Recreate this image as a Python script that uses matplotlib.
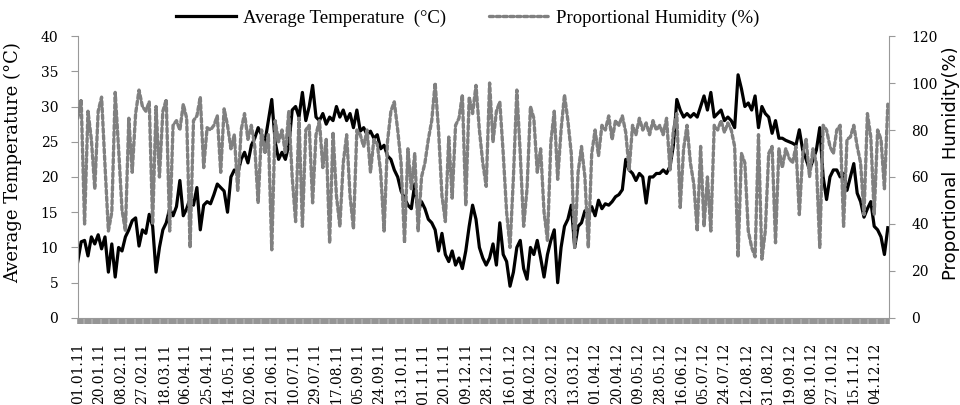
import numpy as np
import matplotlib.pyplot as plt
from datetime import date, timedelta

plt.rcParams['font.family'] = ['DejaVu Serif']

# Series, one value every 3 days starting 01.01.2011
start = date(2011, 1, 1)
n_days = 716
day_step = 3

temp_c = [
    8.0, 10.8, 11.0, 8.8, 11.5, 10.5, 11.8, 9.8, 11.5, 6.5,
    10.5, 5.8, 10.0, 9.5, 11.5, 12.5, 13.8, 14.2, 10.2, 12.5,
    12.0, 14.7, 13.0, 6.5, 10.0, 12.5, 13.5, 15.5, 14.5, 15.8,
    19.5, 14.5, 15.5, 17.0, 16.0, 18.5, 12.5, 16.0, 16.5, 16.2,
    17.5, 19.0, 18.5, 18.0, 15.0, 20.0, 21.0, 20.5, 22.5, 23.5,
    22.0, 24.5, 25.5, 27.0, 26.0, 25.0, 28.0, 31.0, 25.0, 22.5,
    23.5, 22.5, 24.5, 29.5, 30.0, 28.5, 32.0, 28.0, 30.0, 33.0,
    28.5, 28.0, 29.0, 27.5, 28.5, 28.0, 30.0, 28.5, 29.5, 28.0,
    29.0, 27.0, 29.5, 26.5, 27.0, 26.0, 26.5, 25.5, 26.0, 24.0,
    24.5, 23.0, 22.5, 21.0, 20.0, 18.0, 17.0, 16.0, 15.5, 19.0,
    15.0, 16.5, 15.5, 14.0, 13.5, 12.5, 9.5, 12.0, 9.0, 8.0,
    9.5, 7.5, 8.5, 7.0, 9.5, 13.0, 16.0, 14.0, 10.0, 8.5,
    7.5, 8.5, 10.5, 7.5, 13.5, 9.0, 8.0, 4.5, 6.5, 10.0,
    11.0, 7.0, 5.5, 10.0, 9.0, 11.0, 8.5, 5.8, 9.0, 11.0,
    12.5, 5.0, 10.0, 13.0, 14.0, 16.0, 10.0, 13.0, 13.5, 15.2,
    14.5, 15.8, 14.5, 16.7, 15.5, 16.2, 16.0, 16.5, 17.2, 17.5,
    18.2, 22.5, 21.0, 20.5, 19.5, 20.5, 20.0, 16.3, 20.0, 20.0,
    20.5, 20.5, 21.0, 20.5, 21.5, 24.5, 31.0, 29.5, 28.5, 29.0,
    28.5, 29.0, 28.5, 30.0, 31.5, 29.5, 32.0, 28.5, 29.0, 29.5,
    28.0, 28.5, 28.0, 27.0, 34.5, 32.5, 30.0, 30.5, 29.5, 31.5,
    27.0, 30.0, 29.0, 28.5, 26.2, 28.0, 25.5, 25.5, 25.2, 25.0,
    24.8, 24.5, 26.7, 23.8, 22.5, 21.0, 22.4, 23.8, 27.0, 20.0,
    16.8, 20.0, 21.0, 21.0, 20.0, 20.5, 18.1, 20.0, 21.9, 17.7,
    16.5, 14.3, 15.5, 16.5, 13.0, 12.5, 11.5, 9.0, 12.8,
]

humidity_pct = [
    85, 93, 40, 88, 76, 55, 88, 94, 65, 37,
    45, 96, 72, 46, 37, 85, 62, 87, 97, 90,
    88, 92, 40, 90, 60, 88, 93, 37, 82, 84,
    80, 91, 85, 30, 84, 86, 94, 64, 81, 80,
    82, 86, 62, 89, 82, 72, 78, 54, 80, 87,
    76, 82, 73, 49, 80, 70, 78, 29, 84, 75,
    80, 70, 88, 60, 41, 85, 39, 80, 82, 49,
    78, 84, 64, 76, 32, 79, 52, 39, 66, 78,
    52, 38, 80, 78, 73, 80, 62, 76, 74, 62,
    37, 75, 88, 92, 80, 66, 32, 72, 55, 70,
    37, 60, 66, 76, 84, 100, 80, 52, 41, 77,
    51, 82, 85, 95, 48, 94, 87, 99, 80, 66,
    56, 100, 75, 88, 92, 70, 45, 30, 60, 97,
    70, 39, 55, 90, 85, 62, 72, 45, 33, 75,
    88, 59, 80, 95, 84, 70, 30, 62, 73, 60,
    30, 70, 80, 69, 82, 80, 86, 76, 84, 82,
    86, 79, 63, 82, 78, 85, 80, 83, 78, 84,
    80, 82, 78, 85, 63, 80, 87, 47, 72, 82,
    66, 57, 37, 73, 39, 60, 37, 82, 80, 84,
    79, 83, 80, 73, 26, 70, 66, 37, 30, 26,
    78, 25, 37, 70, 73, 32, 72, 64, 72, 68,
    66, 73, 44, 70, 76, 60, 72, 66, 30, 82,
    80, 73, 70, 80, 82, 39, 76, 77, 82, 73,
    66, 44, 87, 77, 44, 80, 76, 55, 91,
]

label_every = 19

days = np.arange(0, n_days, day_step)
label_days = np.arange(0, n_days, label_every)
date_labels = [(start + timedelta(days=int(d))).strftime('%d.%m.%y') for d in label_days]

axis_grey = '#999999'
band_grey = '#8f8f8f'

fig = plt.figure(figsize=(9.6, 4.05), dpi=100)
ax = fig.add_axes([0.081, 0.215, 0.845, 0.696])
ax2 = ax.twinx()

l1, = ax.plot(days, temp_c, color='black', lw=2.3, solid_joinstyle='round',
              label='Average Temperature  (\u00b0C)')
l2, = ax2.plot(days, humidity_pct, color='#808080', lw=2.4, dashes=(1.2, 0.85),
               dash_capstyle='round', label='Proportional Humidity (%)')

ax.set_xlim(0, n_days - 1)
ax.set_ylim(0, 40)
ax2.set_ylim(0, 120)
ax.set_yticks(np.arange(0, 41, 5))
ax2.set_yticks(np.arange(0, 121, 20))

# spines
for a in (ax, ax2):
    a.spines['top'].set_visible(False)
ax.spines['right'].set_visible(False)
ax2.spines['left'].set_visible(False)
ax2.spines['bottom'].set_visible(False)
ax.spines['left'].set_color(axis_grey)
ax2.spines['right'].set_color(axis_grey)
ax.spines['bottom'].set_color(axis_grey)

# x axis: one tick per day makes the grey band under the plot
ax.set_xticks(label_days)
ax.set_xticklabels(date_labels, rotation=90, fontsize=10)
ax.set_xticks(np.arange(0, n_days), minor=True)
ax.tick_params(axis='x', which='both', direction='out', length=4, width=1.1,
               color=band_grey, pad=14)

ax.tick_params(axis='y', direction='out', length=5, color=axis_grey,
               labelsize=10, pad=9)
ax2.tick_params(axis='y', direction='out', length=4, color=axis_grey,
                labelsize=10, pad=12)

ax.set_ylabel('Average Temperature (\u00b0C)', fontsize=13)
ax.yaxis.set_label_coords(-0.068, 0.55)
ax2.set_ylabel('Proportional  Humidity(%)', fontsize=13, rotation=90,
               family=['DejaVu Sans'])
ax2.yaxis.set_label_coords(1.066, 0.55)

fig.legend([l1, l2], [l1.get_label(), l2.get_label()], loc='center',
           bbox_to_anchor=(0.487, 0.955), ncol=2, frameon=False,
           handlelength=3.2, handletextpad=0.35, columnspacing=2.3,
           prop={'family': ['Liberation Serif', 'DejaVu Serif'], 'size': 13.5})

fig.savefig('out.png', dpi=100)
